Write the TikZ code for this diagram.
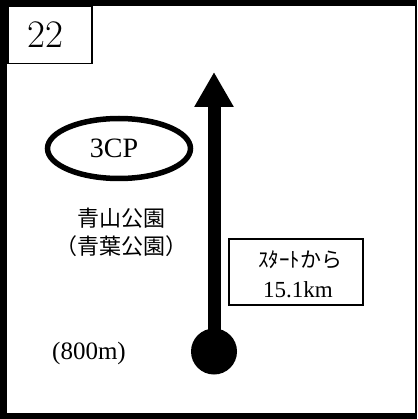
\documentclass[tikz,border=0pt]{standalone}
\usepackage{fontspec}
\usepackage{tikz}
\usetikzlibrary{arrows.meta}
\usetikzlibrary{shapes.geometric}
\newfontfamily\jpfont{Noto Sans CJK JP}
\newfontfamily\lfont{Liberation Serif}
\tikzstyle{course}=[x=1pt, y=-1pt]
\tikzstyle{numbox}=[rectangle, draw, line width=1.5pt, fill=white, anchor=north west, minimum width=84pt, minimum height=57pt, inner sep=0pt]
\tikzstyle{cp}=[ellipse, draw, line width=5.5pt, minimum width=143pt, minimum height=60pt, inner sep=0pt]
\tikzstyle{start}=[circle, fill=black, minimum size=46pt, inner sep=0pt]
\tikzstyle{dist}=[rectangle, draw, line width=1.5pt, minimum width=134pt, minimum height=66pt, inner sep=0pt]
\tikzstyle{route}=[line width=13pt, -{Triangle[width=37pt, length=35pt]}]
\tikzstyle{lbl}=[inner sep=0pt, align=center]
\begin{document}
\begin{tikzpicture}[course]
	\useasboundingbox (0,0) rectangle (417,419);
	%The frame
	\fill[black] (0,0) rectangle (417,419);
	\fill[white] (7,6) rectangle (415,413);

	%The number
	\node[numbox] (num) at (7,6) {};
	\node[lbl, font=\fontsize{39}{39}\selectfont] (numtxt) at (45,35) {22};

	%The checkpoint
	\node[cp] (cp) at (119,148.5) {};
	\node[lbl, font=\lfont\fontsize{28}{28}\selectfont] (cptxt) at (114,148) {3CP};
	\node[lbl, font=\jpfont\fontsize{22}{28}\selectfont] (park) at (121,232) {青山公園\\（青葉公園）};

	%The route
	\node[start] (s) at (214,351.5) {};
	\coordinate (tip) at (214,72);
	\draw[route] (s.center) -- (tip);

	%The distance box
	\node[dist] (d) at (296,272) {};
	\node[lbl, font=\jpfont\fontsize{21}{21}\selectfont] (dtop) at (300,260) {ｽﾀｰﾄから};
	\node[lbl, font=\lfont\fontsize{23}{23}\selectfont] (dbot) at (298,290) {15.1km};

	%The length
	\node[lbl, font=\lfont\fontsize{25}{25}\selectfont] (len) at (89,353) {(800m)};
\end{tikzpicture}
\end{document}
